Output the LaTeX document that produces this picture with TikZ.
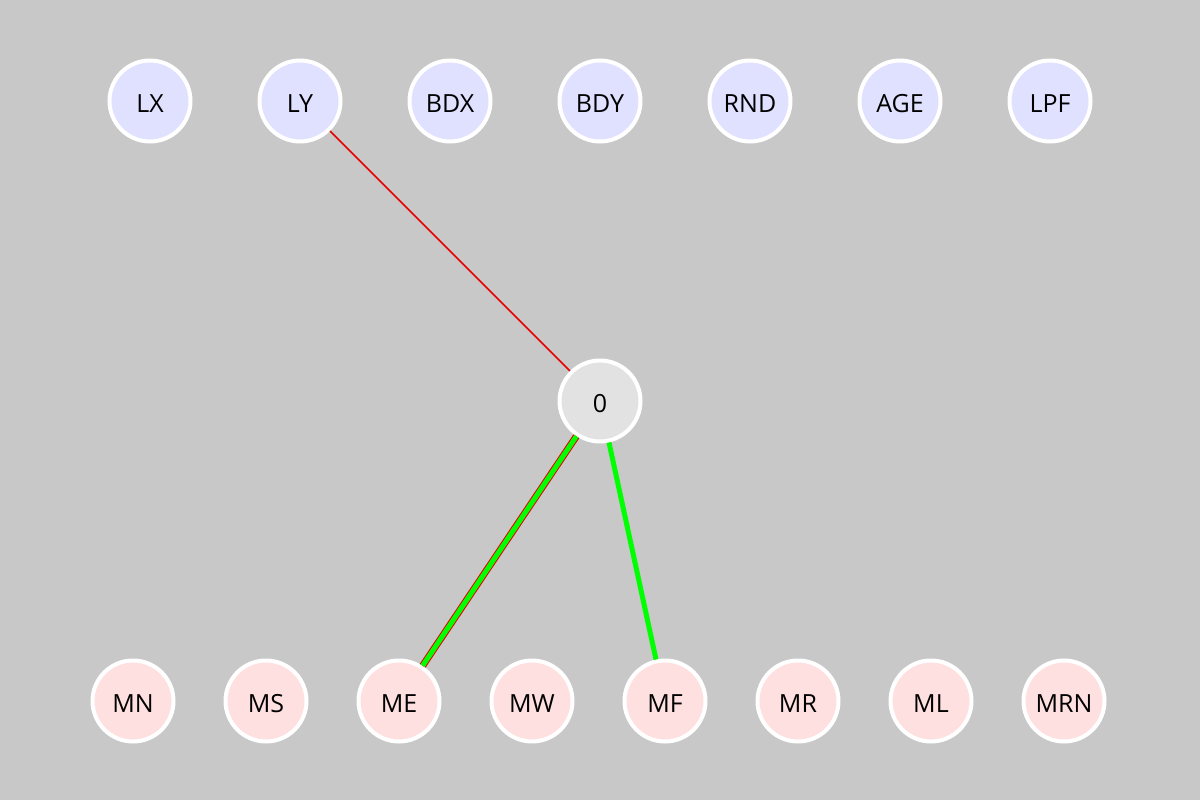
\documentclass[tikz,border=0pt]{standalone}
\usepackage{fontspec}
\setmainfont{Open Sans}
\definecolor{bgc}{RGB}{200,200,200}
\definecolor{topc}{RGB}{224,224,255}
\definecolor{botc}{RGB}{255,224,224}
\definecolor{midc}{RGB}{226,226,226}
\definecolor{redc}{RGB}{230,0,0}
\definecolor{grnc}{RGB}{0,255,0}
\newcommand{\lbltxt}[1]{\raisebox{-11.5pt}[0pt][0pt]{#1}}
\begin{document}
\begin{tikzpicture}[x=1pt,y=-1pt,
  nd/.style={circle,draw=white,line width=4pt,minimum size=81pt,inner sep=0pt,font=\fontsize{25}{25}\selectfont},
  top/.style={nd,fill=topc},
  bot/.style={nd,fill=botc},
  mid/.style={nd,fill=midc},
  rededge/.style={draw=redc},
  grnedge/.style={draw=grnc}]
\fill[bgc] (0,0) rectangle (1200,800);
\useasboundingbox (0,0) rectangle (1200,800);
\foreach \n/\x in {LX/150,LY/300,BDX/450,BDY/600,RND/750,AGE/900,LPF/1050}
  \node[top] (\n) at (\x,101) {\lbltxt{\n}};
\foreach \n/\x in {MN/133,MS/266,ME/399,MW/532,MF/665,MR/798,ML/931,MRN/1064}
  \node[bot] (\n) at (\x,701) {\lbltxt{\n}};
\node[mid] (c0) at (600,401) {\lbltxt{0}};
\draw[rededge,line width=1.6pt] (LY) -- (c0);
\draw[rededge,line width=7pt] (c0) -- (ME);
\draw[grnedge,line width=5pt] (c0) -- (ME);
\draw[grnedge,line width=5pt] (c0) -- (MF);
\end{tikzpicture}
\end{document}
